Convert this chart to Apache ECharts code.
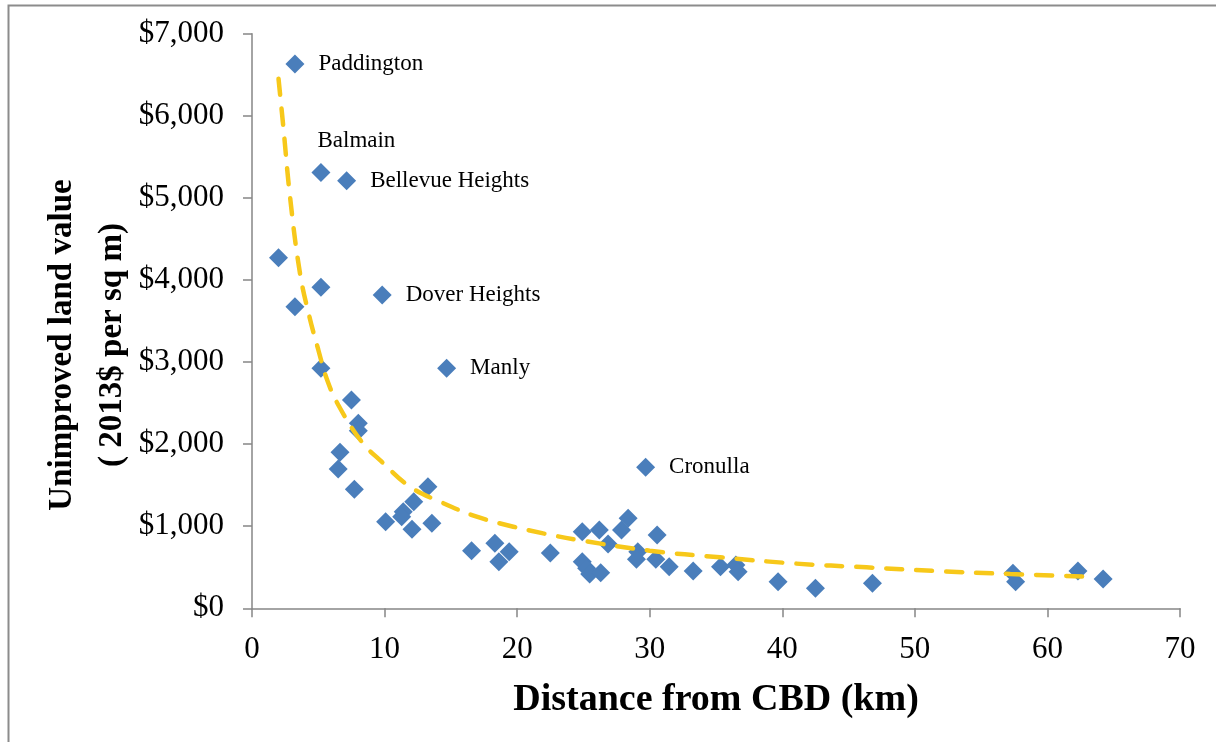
<!DOCTYPE html>
<html>
<head>
<meta charset="utf-8">
<script src="https://cdn.jsdelivr.net/npm/echarts@6/dist/echarts.min.js"></script>
<style>
html,body{margin:0;padding:0;background:#fff;}
#chart{width:1216px;height:742px;}
</style>
</head>
<body>
<div id="chart"></div>
<script>
// Suburb data: distance from CBD (km) and unimproved land value (2013$ per sq m)
const distanceKm = [3.24, 5.2, 7.14, 2.0, 5.2, 3.24, 9.82, 14.68, 5.2, 7.5, 8.02, 8.02, 6.64, 6.5, 7.72,
  10.08, 11.41, 11.29, 12.2, 12.07, 13.27, 13.57, 16.56, 18.32, 18.62, 19.4, 22.5, 24.91, 24.91, 25.24,
  25.47, 26.3, 26.2, 26.86, 27.87, 28.37, 29.1, 29.0, 30.56, 30.46, 31.47, 33.28, 35.34, 36.5, 36.67,
  39.68, 29.69, 42.5, 46.8, 57.4, 57.6, 62.3, 64.2];
const landValue = [6630, 5310, 5210, 4270, 3910, 3674, 3816, 2923, 2923, 2537, 2253, 2163, 1900, 1697, 1449,
  1055, 1177, 1116, 1299, 962, 1481, 1035, 702, 792, 568, 689, 675, 933, 568, 487,
  418, 434, 953, 783, 953, 1096, 689, 597, 893, 597, 507, 454, 507, 527, 446,
  324, 1717, 243, 304, 426, 324, 454, 357];
const pointNames = ['Paddington', 'Balmain', 'Bellevue Heights', '', '', '', 'Dover Heights', 'Manly', '', '', '', '', '', '', '',
  '', '', '', '', '', '', '', '', '', '', '', '', '', '', '',
  '', '', '', '', '', '', '', '', '', '', '', '', '', '', '',
  '', 'Cronulla', '', '', '', '', '', ''];
// Trend line (power fit)
const trendX = [2.0, 2.36, 2.87, 3.62, 4.32, 5.0, 5.63, 6.5, 8.27, 9.78, 11.92, 14.18, 16.95, 19.71, 21.97, 24.6, 30.0, 35.3, 41.0, 46.35, 51.6, 57.2, 63.2];
const trendY = [6450, 5870, 5010, 4080, 3560, 3150, 2800, 2480, 2030, 1786, 1481, 1299, 1116, 994, 913, 832, 702, 621, 545, 499, 454, 418, 385];
// Axis ticks
const xTicks = [0, 10, 20, 30, 40, 50, 60, 70];
const yTicks = [0, 1000, 2000, 3000, 4000, 5000, 6000, 7000];

const FONT = '"Liberation Serif", "Times New Roman", serif';
const AXIS = '#868686';

const scatterData = distanceKm.map((x, i) => {
  const item = { value: [x, landValue[i]], name: pointNames[i] };
  if (pointNames[i]) {
    item.label = { show: true };
    if (pointNames[i] === 'Balmain') {
      item.label.position = [6, -22];
      item.label.align = 'left';
      item.label.verticalAlign = 'middle';
    }
  }
  return item;
});
const trendData = trendX.map((x, i) => [x, trendY[i]]);

const chart = echarts.init(document.getElementById('chart'), null, { renderer: 'canvas' });
chart.setOption({
  backgroundColor: '#fff',
  animation: false,
  graphic: [{
    type: 'rect', silent: true, z: -10,
    shape: { x: 8.5, y: 5.5, width: 1240, height: 780 },
    style: { fill: null, stroke: '#8c8c8c', lineWidth: 2 }
  }],
  grid: { left: 252, right: 36, top: 33.7, bottom: 133.7, containLabel: false },
  xAxis: {
    type: 'value', min: xTicks[0], max: xTicks[xTicks.length - 1], interval: 10,
    name: 'Distance from CBD (km)', nameLocation: 'middle', nameGap: 73, nameMoveOverlap: false,
    nameTextStyle: { fontFamily: FONT, fontSize: 38, fontWeight: 'bold', color: '#000' },
    axisLine: { lineStyle: { color: AXIS, width: 1.5 } },
    axisTick: { show: true, inside: false, length: 9, lineStyle: { color: AXIS, width: 1.5 } },
    axisLabel: { fontFamily: FONT, fontSize: 31, color: '#000', margin: 26 },
    splitLine: { show: false }
  },
  yAxis: {
    type: 'value', min: yTicks[0], max: yTicks[yTicks.length - 1], interval: 1000,
    name: 'Unimproved land value\n( 2013$ per sq m)', nameLocation: 'middle', nameRotate: 90, nameGap: 115, nameMoveOverlap: false,
    nameTextStyle: { fontFamily: FONT, fontSize: 33, fontWeight: 'bold', color: '#000', lineHeight: 50, align: 'center', padding: [0, 48, 0, 0] },
    axisLine: { show: true, lineStyle: { color: AXIS, width: 1.5 } },
    axisTick: { show: true, inside: false, length: 9, lineStyle: { color: AXIS, width: 1.5 } },
    axisLabel: {
      fontFamily: FONT, fontSize: 31, color: '#000', margin: 28,
      formatter: v => '$' + v.toLocaleString('en-US')
    },
    splitLine: { show: false }
  },
  series: [{
    type: 'scatter',
    data: scatterData,
    symbol: 'diamond', symbolSize: 19,
    itemStyle: { color: '#4A7EBB', opacity: 1 },
    label: {
      show: false, position: 'right', distance: 14,
      formatter: p => p.name,
      fontFamily: FONT, fontSize: 23, color: '#000'
    },
    z: 2
  }, {
    type: 'line',
    data: trendData,
    smooth: 0.4,
    showSymbol: false, symbol: 'none',
    lineStyle: { color: '#F7C81A', width: 4.5, type: [16, 14], cap: 'round' },
    z: 3, silent: true
  }]
});
</script>
</body>
</html>
